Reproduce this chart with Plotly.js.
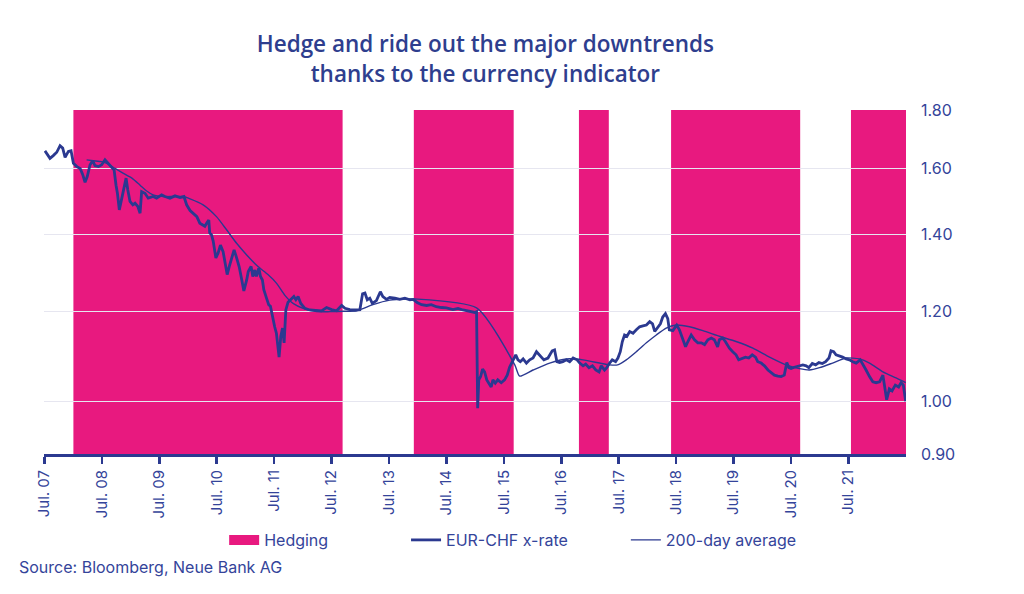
<!DOCTYPE html>
<html>
<head>
<meta charset="utf-8">
<script src="https://cdn.plot.ly/plotly-3.0.1.min.js"></script>
<style>html,body{margin:0;padding:0;background:#fff;}#chart{width:1024px;height:594px;}</style>
</head>
<body>
<div id="chart"></div>
<script>
// EUR-CHF exchange rate
const rateDates = [
'2007-07-05','2007-08-06','2007-08-27','2007-09-18','2007-10-09','2007-10-26','2007-11-10','2007-12-01','2007-12-18',
'2008-01-02','2008-01-24','2008-02-14','2008-03-01','2008-03-16','2008-03-30','2008-04-17','2008-05-04','2008-05-18','2008-06-09','2008-06-30',
'2008-07-21','2008-08-11','2008-09-02','2008-09-17','2008-09-29','2008-10-08','2008-10-20','2008-11-05','2008-11-19','2008-12-02','2008-12-13','2008-12-27',
'2009-01-14','2009-01-28','2009-02-15','2009-03-01','2009-03-11','2009-04-01','2009-04-22','2009-05-23','2009-06-14','2009-07-16','2009-08-06','2009-09-07','2009-10-09','2009-11-10','2009-12-05','2009-12-22',
'2010-01-13','2010-02-25','2010-03-16','2010-04-02','2010-04-17','2010-05-01','2010-05-12','2010-05-18','2010-05-29','2010-06-09','2010-06-26','2010-07-10','2010-07-25','2010-08-11','2010-08-26','2010-09-06','2010-09-19','2010-10-04','2010-10-20','2010-11-05','2010-11-21','2010-12-06','2010-12-21',
'2011-01-08','2011-01-18','2011-02-05','2011-02-16','2011-03-01','2011-03-11','2011-03-26','2011-04-06','2011-04-18','2011-04-27','2011-05-14','2011-05-28','2011-06-08','2011-06-21','2011-07-05','2011-07-16','2011-07-26','2011-08-02','2011-08-13','2011-08-24','2011-09-03','2011-09-14','2011-09-28','2011-10-20','2011-11-04','2011-11-17','2011-12-01','2011-12-18',
'2012-01-13','2012-02-14','2012-03-27','2012-04-28','2012-05-30','2012-07-01','2012-08-02','2012-09-03','2012-09-24','2012-10-25','2012-11-26','2012-12-28',
'2013-01-14','2013-01-29','2013-02-13','2013-03-01','2013-03-17','2013-04-12','2013-05-07','2013-05-23','2013-06-15','2013-07-06','2013-08-07','2013-09-08','2013-10-10','2013-11-11','2013-12-02','2013-12-27',
'2014-01-24','2014-02-25','2014-03-27','2014-04-28','2014-05-30','2014-07-01','2014-08-12','2014-09-13','2014-10-15','2014-11-27','2014-12-29',
'2015-01-09','2015-01-16','2015-01-23','2015-02-04','2015-02-16','2015-03-01','2015-03-15','2015-03-28','2015-04-12','2015-04-23','2015-05-08','2015-05-24','2015-06-15','2015-07-06','2015-07-23','2015-08-07','2015-08-28','2015-09-15','2015-09-29','2015-10-14','2015-11-01','2015-11-22','2015-12-13',
'2016-01-03','2016-01-25','2016-02-10','2016-02-25','2016-03-12','2016-04-07','2016-05-04','2016-05-19','2016-06-03','2016-06-20','2016-07-11','2016-08-02','2016-08-23','2016-09-14','2016-10-09','2016-10-26','2016-11-16','2016-12-03','2016-12-24',
'2017-01-15','2017-02-05','2017-02-26','2017-03-12','2017-04-02','2017-04-16','2017-05-04','2017-05-21','2017-06-11','2017-06-26','2017-07-11','2017-07-24','2017-08-07','2017-08-22','2017-09-09','2017-09-30','2017-10-21','2017-11-11','2017-12-02','2017-12-24',
'2018-01-14','2018-02-01','2018-02-15','2018-03-06','2018-03-23','2018-04-07','2018-04-24','2018-05-09','2018-05-19','2018-06-10','2018-07-05','2018-07-22','2018-08-09','2018-08-30','2018-09-14','2018-10-05','2018-10-26','2018-11-16','2018-12-08','2018-12-29',
'2019-01-19','2019-02-10','2019-03-01','2019-03-22','2019-04-02','2019-04-23','2019-05-10','2019-06-05','2019-06-26','2019-07-17','2019-08-03','2019-08-25','2019-09-15','2019-10-06','2019-10-28','2019-11-18','2019-12-02','2019-12-24',
'2020-01-14','2020-02-05','2020-02-26','2020-03-17','2020-04-08','2020-04-29','2020-05-19','2020-06-04','2020-06-17','2020-07-01','2020-07-22','2020-08-23','2020-09-14','2020-10-05','2020-10-22','2020-11-13','2020-12-04','2020-12-25',
'2021-01-16','2021-02-06','2021-02-27','2021-03-12','2021-03-29','2021-04-13','2021-05-04','2021-05-25','2021-06-16','2021-07-07','2021-07-28','2021-08-19','2021-09-14','2021-09-30','2021-10-21','2021-11-12','2021-12-03','2021-12-24',
'2022-01-15','2022-02-05','2022-02-16','2022-03-01','2022-03-18','2022-04-04','2022-04-25','2022-05-16','2022-06-01','2022-06-15','2022-06-30'
];
const rateValues = [
1.658,1.633,1.642,1.653,1.675,1.667,1.636,1.656,1.658,
1.617,1.606,1.600,1.581,1.556,1.574,1.612,1.625,1.609,1.606,1.612,
1.628,1.617,1.606,1.595,1.547,1.522,1.472,1.507,1.537,1.569,1.532,1.497,
1.487,1.492,1.482,1.462,1.527,1.522,1.507,1.512,1.507,1.517,1.512,1.507,1.514,1.509,1.512,1.487,
1.470,1.452,1.433,1.428,1.424,1.435,1.442,1.405,1.400,1.382,1.336,1.349,1.371,1.353,1.313,1.292,1.313,1.336,1.358,1.336,1.313,1.282,1.250,
1.278,1.300,1.313,1.287,1.304,1.287,1.309,1.287,1.278,1.253,1.232,1.216,1.212,1.186,1.163,1.148,1.117,1.094,1.141,1.160,1.126,1.203,1.222,1.232,1.236,1.228,1.236,1.219,
1.207,1.203,1.201,1.201,1.209,1.204,1.201,1.214,1.207,1.204,1.203,1.204,
1.243,1.245,1.228,1.232,1.219,1.226,1.248,1.236,1.229,1.234,1.232,1.229,1.232,1.228,1.229,1.221,
1.216,1.214,1.216,1.211,1.209,1.208,1.204,1.207,1.203,1.199,1.197,
1.199,0.987,1.045,1.052,1.068,1.062,1.045,1.038,1.030,1.045,1.038,1.045,1.039,1.045,1.055,1.072,1.088,1.099,1.088,1.084,1.090,1.081,1.088,
1.092,1.106,1.099,1.094,1.088,1.092,1.108,1.110,1.084,1.082,1.084,1.088,1.084,1.092,1.088,1.081,1.075,1.079,1.071,
1.075,1.066,1.062,1.075,1.066,1.071,1.081,1.088,1.084,1.092,1.106,1.129,1.144,1.141,1.152,1.148,1.156,1.163,1.165,1.167,
1.175,1.170,1.152,1.163,1.170,1.186,1.194,1.182,1.156,1.154,1.167,1.156,1.137,1.117,1.129,1.144,1.133,1.126,1.126,1.122,
1.133,1.137,1.133,1.117,1.133,1.137,1.129,1.114,1.106,1.099,1.088,1.092,1.094,1.092,1.099,1.094,1.084,1.081,
1.075,1.066,1.060,1.055,1.053,1.052,1.055,1.082,1.071,1.069,1.072,1.075,1.077,1.075,1.071,1.080,1.077,1.082,
1.080,1.084,1.092,1.108,1.106,1.099,1.097,1.094,1.090,1.088,1.084,1.081,1.088,1.077,1.066,1.052,1.041,1.039,
1.041,1.055,1.034,1.004,1.026,1.022,1.034,1.030,1.039,1.034,1.001
];

// 200-day moving average
const avgDates = [
'2008-03-26','2008-05-08','2008-06-30','2008-08-11','2008-09-23','2008-11-15','2009-01-08','2009-03-01','2009-04-12','2009-05-23',
'2009-07-26','2009-09-28','2009-12-01','2010-01-13','2010-04-06','2010-06-30','2010-09-02','2010-11-05','2011-01-08','2011-03-21',
'2011-05-23','2011-07-16','2011-09-08','2011-10-30','2012-01-02','2012-03-27','2012-06-20','2012-09-13','2012-12-07','2013-03-21',
'2013-07-06','2013-10-20','2013-12-12','2015-01-09','2015-09-09','2015-10-10','2016-01-03','2016-04-18','2016-08-02','2016-11-16',
'2017-03-01','2017-05-04','2017-06-24','2017-08-18','2017-10-21','2017-12-24','2018-02-25','2018-04-29','2018-07-01','2018-09-24',
'2018-12-18','2019-04-02','2019-07-17','2019-11-01','2020-02-15','2020-05-31','2020-08-23','2020-10-26','2020-12-29','2021-03-22',
'2021-06-16','2021-09-09','2021-11-12','2022-02-05','2022-04-30','2022-06-30'
];
const avgValues = [
1.628,1.625,1.622,1.614,1.600,1.584,1.569,1.547,1.529,1.517,
1.512,1.512,1.512,1.505,1.487,1.452,1.414,1.376,1.344,1.313,
1.292,1.270,1.239,1.219,1.207,1.199,1.199,1.200,1.201,1.216,
1.227,1.230,1.230,1.208,1.077,1.053,1.066,1.081,1.090,1.088,
1.081,1.077,1.077,1.088,1.106,1.126,1.144,1.160,1.167,1.163,
1.154,1.141,1.129,1.114,1.094,1.077,1.069,1.066,1.071,1.081,
1.092,1.090,1.081,1.062,1.049,1.039
];

// Hedging periods
const hedgeStart = ['2008-01-02','2013-12-06','2016-10-21','2018-05-30','2021-07-17'];
const hedgeEnd   = ['2012-09-09','2015-09-02','2017-04-29','2020-08-28','2022-07-03'];

// Axis ticks
const tickDates  = ['2007-07-01','2008-07-01','2009-07-01','2010-07-01','2011-07-01','2012-07-01','2013-07-01','2014-07-01','2015-07-01','2016-07-01','2017-07-01','2018-07-01','2019-07-01','2020-07-01','2021-07-01'];
const tickLabels = ['Jul. 07','Jul. 08','Jul. 09','Jul. 10','Jul. 11','Jul. 12','Jul. 13','Jul. 14','Jul. 15','Jul. 16','Jul. 17','Jul. 18','Jul. 19','Jul. 20','Jul. 21'];
const yTicks = [0.9, 1.0, 1.2, 1.4, 1.6, 1.8];

const PINK = '#E8197F';
const BLUE = '#2B3990';
const TEXT = '#34449A';
const FONT = 'Inter, "Open Sans", sans-serif';

const shapes = hedgeStart.map((s, i) => ({
  type: 'rect', xref: 'x', yref: 'paper', x0: s, x1: hedgeEnd[i], y0: 0, y1: 1,
  fillcolor: PINK, line: {width: 0}, layer: 'between'
}));

const traces = [
  {x: [null], y: [null], type: 'scatter', mode: 'lines', name: 'Hedging',
   line: {color: PINK, width: 10}, legend: 'legend', hoverinfo: 'skip'},
  {x: rateDates, y: rateValues, type: 'scatter', mode: 'lines', name: 'EUR-CHF x-rate',
   line: {color: BLUE, width: 2.8}, legend: 'legend2'},
  {x: avgDates, y: avgValues, type: 'scatter', mode: 'lines', name: '200-day average',
   line: {color: BLUE, width: 1.4, shape: 'spline', smoothing: 0.6}, legend: 'legend3'}
];

const legendBase = {orientation: 'h', yanchor: 'middle', xanchor: 'left', y: -0.25,
  font: {family: FONT, size: 16, color: TEXT}, bgcolor: 'rgba(0,0,0,0)'};

const layout = {
  width: 1024, height: 594,
  margin: {l: 44, r: 118, t: 110, b: 140},
  paper_bgcolor: '#fff', plot_bgcolor: '#fff',
  font: {family: FONT, color: TEXT},
  title: {text: 'Hedge and ride out the major downtrends<br>thanks to the currency indicator',
    x: 0.474, xanchor: 'center', y: 0.912, yanchor: 'middle',
    font: {family: '"Open Sans", sans-serif', size: 22.5, weight: 600, color: '#2E3E8E'}},
  xaxis: {type: 'date', range: ['2007-06-29', '2022-07-02'],
    tickvals: tickDates, ticktext: tickLabels, tickangle: -90,
    showgrid: false, zeroline: false,
    showline: true, linecolor: BLUE, linewidth: 3,
    ticks: 'outside', ticklen: 7, tickwidth: 2.5, tickcolor: BLUE,
    tickfont: {family: FONT, size: 15, color: TEXT}},
  yaxis: {type: 'log', side: 'right', range: [Math.log10(0.9), Math.log10(1.8)],
    tickvals: yTicks, tickformat: '.2f',
    showgrid: true, gridcolor: '#E6E6F0', gridwidth: 1.2,
    zeroline: false, showline: false, ticks: '', ticklabelstandoff: 14,
    tickfont: {family: FONT, size: 16, color: TEXT}},
  shapes: shapes,
  showlegend: true,
  legend: Object.assign({}, legendBase, {x: 0.209}),
  legend2: Object.assign({}, legendBase, {x: 0.42}),
  legend3: Object.assign({}, legendBase, {x: 0.675}),
  annotations: [{text: 'Source: Bloomberg, Neue Bank AG', xref: 'paper', yref: 'paper',
    x: -0.031, y: -0.328, xanchor: 'left', yanchor: 'middle', showarrow: false,
    font: {family: FONT, size: 16, color: TEXT}}]
};

Plotly.newPlot('chart', traces, layout, {displayModeBar: false, staticPlot: true});
</script>
</body>
</html>
